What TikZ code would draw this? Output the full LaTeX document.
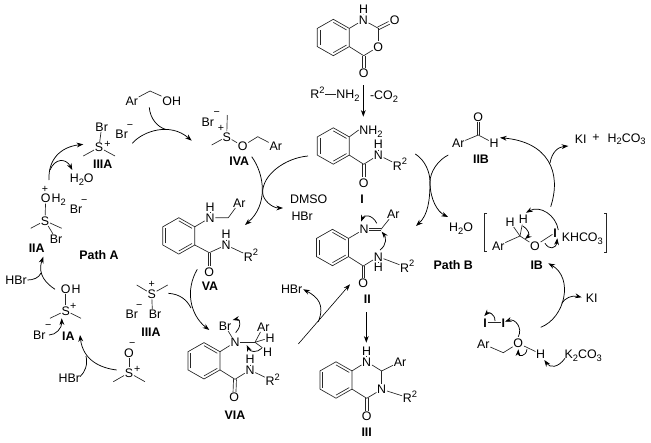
\documentclass[tikz,border=0pt]{standalone}
\usepackage{fontspec}
\setmainfont{Liberation Sans}
\usetikzlibrary{arrows.meta,calc}
\newcommand\sups[1]{\raisebox{.42em}{\fontsize{7}{8}\selectfont #1}}
\newcommand\subs[1]{\raisebox{-.22em}{\fontsize{7}{8}\selectfont #1}}
\tikzset{
 atom/.style={inner sep=.4pt,font=\fontsize{9.3}{11}\selectfont,text height=6.7pt,text depth=0pt},
 lab/.style={atom,font=\fontsize{9.3}{11}\selectfont\bfseries},
 chg/.style={inner sep=0pt,font=\fontsize{8}{9}\selectfont},
 bond/.style={line width=.5pt,black!85},
 arr/.style={line width=.55pt,-{Stealth[length=5pt,width=3.6pt]}},
 arl/.style={line width=.55pt}
}
\newcommand\ringg[3]{%
 \coordinate (#1o) at (#2,#3);
 \coordinate (#1a) at (#2,#3-18.2);
 \coordinate (#1b) at (#2+16,#3-9.1);
 \coordinate (#1c) at (#2+16,#3+9.1);
 \coordinate (#1d) at (#2,#3+18.2);
 \coordinate (#1e) at (#2-16,#3+9.1);
 \coordinate (#1f) at (#2-16,#3-9.1);
 \draw[bond] (#1a)--(#1b)--(#1c)--(#1d)--(#1e)--(#1f)--cycle;
 \draw[bond] ($(#1a)!.17!(#1o)$)--($(#1b)!.17!(#1o)$);
 \draw[bond] ($(#1c)!.17!(#1o)$)--($(#1d)!.17!(#1o)$);
 \draw[bond] ($(#1e)!.17!(#1o)$)--($(#1f)!.17!(#1o)$);
}
\newcommand\dbl[2]{%
 \path (#1)--(#2) coordinate[pos=0] (dp) coordinate[pos=1] (dq);
 \draw[bond] ($(dp)!1.1pt!90:(dq)$)--($(dq)!1.1pt!-90:(dp)$);
 \draw[bond] ($(dp)!1.1pt!-90:(dq)$)--($(dq)!1.1pt!90:(dp)$);
}
\newcommand\carw[5]{\coordinate (#1s) at (#2); \coordinate (#1e) at (#5);
 \draw[arr] (#1s) .. controls (#3) and (#4) .. (#1e);}
\newcommand\cbr[5]{\coordinate (#1s) at (#2); \coordinate (#1e) at (#5);
 \draw[arl] (#1s) .. controls (#3) and (#4) .. (#1e);}
\begin{document}
\begin{tikzpicture}[x=.75pt,y=-.75pt]
\useasboundingbox (0,0) rectangle (651,443);
%% isatoic anhydride
\ringg{Rt}{333.3}{37.5}
\node[atom] (tn) at (363.3,20) {N};
\node[atom] (th) at (363.5,9) {H};
\coordinate (tk2) at (378.3,28.3);
\node[atom] (tox1) at (394.7,20) {O};
\node[atom] (tox) at (378.3,46.7) {O};
\coordinate (tk4) at (363.7,55.7);
\node[atom] (tox2) at (363.7,73.3) {O};
\draw[bond] (Rtb)--(tn); \draw[bond] (tn)--(th); \draw[bond] (tn)--(tk2); \dbl{tk2}{tox1}
\draw[bond] (tk2)--(tox); \draw[bond] (tox)--(tk4); \draw[bond] (tk4)--(Rtc); \dbl{tk4}{tox2}
\node[atom] (rnh) at (317.5,94.5) {R\sups{2}};
\node[atom] (rnh2) at (348,94.5) {NH\subs{2}};
\draw[bond] (rnh.east)--(rnh2.west);
\node[atom] (co2) at (384,95) {-CO\subs{2}};
\coordinate (s1) at (363.3,85); \coordinate (s2) at (363.3,116.7);
\draw[arr] (s1)--(s2);
%% I
\ringg{Ra}{333.3}{146}
\node[atom] (anh2) at (371,130) {NH\subs{2}};
\node[atom] (an) at (378.3,155) {N};
\node[atom] (anh) at (378.3,144.5) {H};
\node[atom] (ar2) at (400,165.7) {R\sups{2}};
\coordinate (ak) at (363.7,164.3);
\node[atom] (aox) at (363.7,182.7) {O};
\draw[bond] (Rab)--(anh2.west); \draw[bond] (Rac)--(ak); \draw[bond] (ak)--(an); \draw[bond] (an)--(anh);
\draw[bond] (an)--(ar2); \dbl{ak}{aox}
\node[lab] (li) at (362,199) {I};
%% Ar CH2 OH
\node[atom] (bar) at (131.7,100.7) {Ar};
\coordinate (bk) at (150,91);
\node[atom] (boh) at (171.7,100.7) {OH};
\draw[bond] (bar)--(bk)--(boh);
%% IVA
\node[atom] (cbr) at (207.7,122.3) {Br};
\node[chg] (cm) at (216.7,114) {−};
\node[chg] (cp) at (221,128.3) {+};
\node[atom] (cs) at (226.7,136.7) {S};
\coordinate (cm1) at (227.3,115);
\coordinate (cm2) at (211.7,145);
\node[atom] (cox) at (242.7,146) {O};
\coordinate (ck) at (257.7,136.7);
\node[atom] (car) at (275.7,146) {Ar};
\draw[bond] (cs)--(cm1); \draw[bond] (cs)--(cm2); \draw[bond] (cs)--(cox); \draw[bond] (cox)--(ck)--(car);
\node[lab] (liva) at (239.3,161) {IVA};
\node[atom,anchor=west] (ld) at (289.3,199) {DMSO};
\node[atom,anchor=west] (lh) at (290.7,215.7) {HBr};
%% VA
\ringg{Rv}{178.8}{235.9}
\node[atom] (vn) at (210,217.7) {N};
\node[atom] (vh) at (210,207.2) {H};
\coordinate (vch) at (228.3,217.7);
\node[atom] (var) at (239.3,202.7) {Ar};
\coordinate (vk) at (209.3,252.7);
\node[atom] (vox) at (209.3,271.7) {O};
\node[atom] (vn2) at (226,245) {N};
\node[atom] (vh2) at (226,234.3) {H};
\node[atom] (vr) at (251,256.7) {R\sups{2}};
\draw[bond] (Rvb)--(vn); \draw[bond] (vn)--(vh); \draw[bond] (vn)--(vch)--(var);
\draw[bond] (Rvc)--(vk); \dbl{vk}{vox}
\draw[bond] (vk)--(vn2); \draw[bond] (vn2)--(vh2); \draw[bond] (vn2)--(vr);
\node[lab] (lva) at (210,286) {VA};
%% VIA
\ringg{Rw}{204}{360.8}
\node[atom] (wn) at (235,342.3) {N};
\node[atom] (wbr) at (225,325.7) {Br};
\coordinate (wch) at (255,342.3);
\node[atom] (war) at (263.3,326.7) {Ar};
\node[atom] (wh1) at (270,337.7) {H};
\node[atom] (wh2) at (267.7,351.7) {H};
\coordinate (wk) at (235,379.3);
\node[atom] (wox) at (234.3,397.3) {O};
\node[atom] (wn2) at (250,370) {N};
\node[atom] (wh3) at (250,359.5) {H};
\node[atom] (wr) at (272.7,381) {R\sups{2}};
\draw[bond] (Rwb)--(wn); \draw[bond] (wn)--(wbr); \draw[bond] (wn)--(wch);
\draw[bond] (wch)--(war); \draw[bond] (wch)--(wh1); \draw[bond] (wch)--(wh2);
\draw[bond] (Rwc)--(wk); \dbl{wk}{wox}
\draw[bond] (wk)--(wn2); \draw[bond] (wn2)--(wh3); \draw[bond] (wn2)--(wr);
\node[lab] (lvia) at (235,415) {VIA};
\carw{q1}{235.7,332.7}{241,328}{241,318}{232.7,320}
\carw{q2}{261.7,348.3}{257,353}{250,352}{246.7,345}
%% II
\ringg{Rb}{332.5}{247.5}
\node[atom] (in) at (364,229.3) {N};
\coordinate (ik) at (381,229.3);
\node[atom] (iar) at (393.3,214) {Ar};
\coordinate (ik2) at (363.3,266);
\node[atom] (iox) at (363.3,283.3) {O};
\node[atom] (in2) at (378.3,256.7) {N};
\node[atom] (ih) at (378.3,267.5) {H};
\node[atom] (ir) at (407.3,267.7) {R\sups{2}};
\draw[bond] (Rbb)--(in); \dbl{in}{ik} \draw[bond] (ik)--(iar);
\draw[bond] (Rbc)--(ik2); \dbl{ik2}{iox} \draw[bond] (ik2)--(in2);
\draw[bond] (in2)--(ih); \draw[bond] (in2)--(ir);
\node[lab] (lii) at (367.3,299.3) {II};
\carw{q3}{376.7,223.3}{373,215}{364,214}{361,221.7}
\carw{q4}{380,250}{387,245}{386,237}{381.7,231.7}
%% III
\ringg{Rc}{336}{380}
\node[atom] (hn) at (366.7,361.7) {N};
\node[atom] (hh) at (366.7,351) {H};
\coordinate (hch) at (381.7,371);
\node[atom] (har) at (400,361.7) {Ar};
\node[atom] (hn2) at (381.7,389.3) {N};
\coordinate (hk) at (366.7,398.3);
\node[atom] (hox) at (366.7,416) {O};
\node[atom] (hr) at (410,398.3) {R\sups{2}};
\draw[bond] (Rcb)--(hn); \draw[bond] (hn)--(hh); \draw[bond] (hn)--(hch);
\draw[bond] (hch)--(har); \draw[bond] (hch)--(hn2); \draw[bond] (hn2)--(hk);
\draw[bond] (hk)--(Rcc); \dbl{hk}{hox} \draw[bond] (hn2)--(hr);
\node[lab] (liii) at (366.7,431.7) {III};
\coordinate (s3) at (366.3,312.3); \coordinate (s4) at (366.3,342.7);
\draw[arr] (s3)--(s4);
%% VIA to II
\coordinate (s5) at (298.3,344); \coordinate (s6) at (350,284.3);
\draw[arr,line width=.45pt] (s5)--(s6);
\node[atom] (lhb) at (291.7,289.3) {HBr};
\carw{q5}{318.3,321.7}{325,305}{318,297}{lhb.east}
%% left: lower IIIA
\node[atom] (js) at (151.7,294) {S};
\node[chg] (jp) at (151.7,284.8) {+};
\coordinate (jm1) at (136.7,285); \coordinate (jm2) at (167.7,285);
\node[atom] (jbr) at (155,314.3) {Br};
\node[atom] (jbr2) at (131.7,314.3) {Br};
\node[chg] (jm) at (139.3,306.5) {−};
\draw[bond] (js)--(jm1); \draw[bond] (js)--(jm2); \draw[bond] (js)--(152.3,309.3);
\node[lab] (liiia) at (151,331.7) {IIIA};
\carw{q6}{197.3,269.3}{185,290}{190,315}{209.3,330}
\cbr{q7}{168.3,293.3}{180,294}{187,300}{191,308}
%% upper IIIA
\node[atom] (ubr) at (101.7,126.7) {Br};
\node[atom] (us) at (99,147.3) {S};
\node[chg] (up) at (107.5,144.5) {+};
\coordinate (um1) at (83.3,156); \coordinate (um2) at (115,156);
\draw[bond] (us)--(ubr); \draw[bond] (us)--(um1); \draw[bond] (us)--(um2);
\node[lab] (luiii) at (102.7,164) {IIIA};
\node[atom] (ubr2) at (121.7,134.3) {Br};
\node[chg] (um) at (130,126.5) {−};
\node[atom] (uwat) at (81.7,178.3) {H\subs{2}O};
%% IIA
\node[chg] (ip) at (45,189.5) {+};
\node[atom] (pox) at (45.7,198.3) {O};
\node[atom,anchor=west,inner sep=0pt] (poh) at (pox.east) {H\subs{2}};
\node[atom] (ps) at (45,220.7) {S};
\coordinate (pm1) at (30.7,228.3); \coordinate (pm2) at (61.7,228.3);
\node[atom] (pbr) at (56,239) {Br};
\draw[bond] (ps)--(pox); \draw[bond] (ps)--(pm1); \draw[bond] (ps)--(pm2); \draw[bond] (ps)--(pbr);
\node[atom] (pbr2) at (76,209.3) {Br};
\node[chg] (pm) at (84.3,201.5) {−};
\node[lab] (liia) at (36.7,248.3) {IIA};
\node[lab] (lpa) at (99,255) {Path A};
\node[atom] (lhb2) at (16,280) {HBr};
%% IA
\node[atom] (gox) at (65.7,289) {O};
\node[atom,anchor=west,inner sep=0pt] (goh) at (gox.east) {H};
\node[atom] (gs) at (65.7,310.7) {S};
\node[chg] (gp) at (73.3,306) {+};
\coordinate (gm1) at (50,318.3); \coordinate (gm2) at (81,318.3);
\draw[bond] (gs)--(gox); \draw[bond] (gs)--(gm1); \draw[bond] (gs)--(gm2);
\node[atom] (gbr) at (39.3,335) {Br};
\node[chg] (gm) at (48.3,327) {−};
\node[lab] (lia) at (68.3,336) {IA};
%% DMSO
\node[atom] (lhb3) at (69.3,377.7) {HBr};
\node[atom] (dox) at (129,352.7) {O};
\node[chg] (dm) at (132.3,344.5) {−};
\node[atom] (ds) at (129,372.7) {S};
\node[chg] (dp) at (137.3,369.3) {+};
\coordinate (dm1) at (113.3,381.7); \coordinate (dm2) at (145,381.7);
\draw[bond] (ds)--(dox); \draw[bond] (ds)--(dm1); \draw[bond] (ds)--(dm2);
%% left curved arrows
\cbr{q8}{149.3,107.3}{150,118}{157,127}{166,129.5}
\carw{q9}{132.3,143.3}{143,131}{170,122}{191.7,140.7}
\carw{q10}{49,180}{48,160}{60,147}{83.3,144.3}
\carw{q11}{50,170}{55,158}{66,158}{72.3,170}
\carw{q12}{55,289.3}{47,284}{37,275}{43.3,256.7}
\cbr{q13}{lhb2.east}{33,280}{39,278}{41,273}
\carw{q14}{49,335}{56,335}{62,328}{61.7,318.3}
\carw{q15}{116.7,370}{100,368}{83,360}{80,335}
\cbr{q16}{80,376.7}{85,372}{88,365}{86,356}
%% I to VA, IVA to VA
\cbr{q17}{308,156}{285,158}{262,175}{262.7,193}
\carw{q18}{262.7,193}{263,200}{272,208}{283,208}
\carw{q19}{251.7,156.7}{265,175}{268,205}{245,225}
%% I to II, H2O
\cbr{q20}{415.3,154}{425,160}{430,172}{430,182}
\carw{q21}{430,182}{430,200}{438,212}{448,217}
\cbr{q22}{448.3,155}{438,160}{430,172}{430,182}
\carw{q23}{430,182}{430,200}{428,215}{416,226}
\node[atom] (lwat) at (461,227.3) {H\subs{2}O};
\node[lab] (lpb) at (453.3,265) {Path B};
%% IIB
\node[atom] (ebo) at (478.3,116.7) {O};
\coordinate (ek) at (478.3,135);
\node[atom] (ear) at (458.3,143.3) {Ar};
\node[atom] (eh) at (494,143.3) {H};
\dbl{ek}{ebo} \draw[bond] (ek)--(ear); \draw[bond] (ek)--(eh);
\node[lab] (liib) at (481,159) {IIB};
\carw{q24}{550.7,206.7}{562,172}{548,142}{500,137.7}
\carw{q25}{550,163}{552,152}{558,147}{568.3,146}
\node[atom] (lki) at (580.7,139) {KI};
\node[atom] (lplus) at (596,136.7) {+};
\node[atom] (lhco) at (626.7,137.7) {H\subs{2}CO\subs{3}};
%% IB
\draw[bond] (487,213.3)--(484.3,213.3)--(484.3,251.7)--(487,251.7);
\draw[bond] (604,213.3)--(606.7,213.3)--(606.7,252.3)--(604,252.3);
\coordinate (fk) at (520,236);
\node[atom] (fh1) at (510,221.7) {H};
\node[atom] (fh2) at (523.3,219.3) {H};
\node[atom] (far) at (498.3,245.7) {Ar};
\node[atom] (fox) at (535,245.7) {O};
\node[lab] (fi) at (555,232.7) {I};
\draw[bond] (fk)--(fh1); \draw[bond] (fk)--(fh2); \draw[bond] (fk)--(far); \draw[bond] (fk)--(fox); \draw[bond] (fox)--(fi);
\node[atom] (lkh) at (582.3,237.3) {KHCO\subs{3}};
\node[lab] (lib) at (536.7,265) {IB};
\carw{q26}{558.3,230}{556,215}{540,205}{526,212.7}
\carw{q27}{545,243.3}{549,250}{556,249}{557.3,238.3}
\carw{q28}{522.7,226}{529,230}{530,235}{525,239}
%% lower right
\carw{q29}{540.7,327.3}{565,318}{574,278}{548.3,263.3}
\carw{q30}{561.7,303.3}{565,298}{572,295}{581.7,297.3}
\node[atom] (lki2) at (591.7,298.3) {KI};
\node[lab] (ni1) at (485,322.7) {I};
\node[lab] (ni2) at (503.3,322.7) {I};
\draw[bond] (ni1)--(ni2);
\node[atom] (nar) at (483.3,344) {Ar};
\coordinate (nk) at (503.3,352.7);
\node[atom] (nox) at (518.3,343.3) {O};
\node[atom] (nh) at (540.7,354) {H};
\draw[bond] (nar)--(nk)--(nox); \draw[bond] (nox)--(nh);
\node[atom] (lkco) at (583.3,354) {K\subs{2}CO\subs{3}};
\carw{q31}{495,321}{495,313}{488,312}{484.3,316}
\carw{q32}{518.3,336.7}{523,328}{515,318}{505,321.7}
\carw{q33}{565,358.3}{558,368}{550,368}{544.3,360}
\carw{q34}{527,349.3}{526,357}{518,357}{518.3,349.3}
\end{tikzpicture}
\end{document}
